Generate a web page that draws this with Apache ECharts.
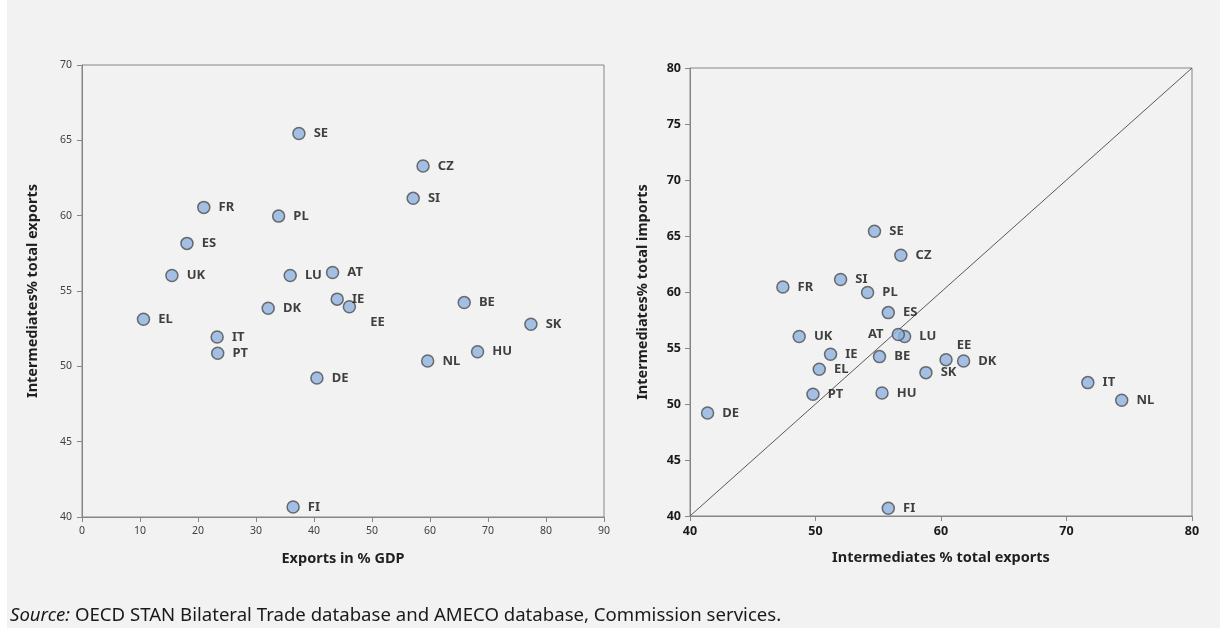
<!DOCTYPE html>
<html>
<head>
<meta charset="utf-8">
<script src="https://cdn.jsdelivr.net/npm/echarts@6/dist/echarts.min.js"></script>
<style>
html,body{margin:0;padding:0;background:#f2f2f2;}
#wrap{position:relative;width:1220px;height:628px;background:#f2f2f2;}
#strip{position:absolute;left:0;top:0;width:7px;height:628px;background:#ffffff;}
#chart{position:absolute;left:0;top:0;width:1220px;height:628px;}
</style>
</head>
<body>
<div id="wrap"><div id="chart"></div><div id="strip"></div></div>
<script>
// Countries
var countries = ['SE','CZ','SI','FR','PL','ES','UK','LU','AT','IE','EE','DK','BE','EL','SK','IT','PT','HU','NL','DE','FI'];
// Left chart x: exports in % of GDP
var exportsGDP = [37.4, 58.8, 57.1, 21.0, 33.9, 18.1, 15.5, 35.9, 43.2, 44.0, 46.1, 32.1, 65.9, 10.6, 77.4, 23.3, 23.4, 68.2, 59.6, 40.5, 36.4];
// Intermediates % total exports (left chart y)
var interExports = [65.45, 63.3, 61.15, 60.55, 59.97, 58.16, 56.03, 56.03, 56.23, 54.46, 53.95, 53.85, 54.23, 53.12, 52.79, 51.95, 50.87, 50.97, 50.35, 49.23, 40.66];
// Right chart x: intermediates % total exports (as plotted)
var rightX = [54.7, 56.8, 52.0, 47.4, 54.15, 55.8, 48.7, 57.1, 56.6, 51.2, 60.4, 61.8, 55.1, 50.3, 58.8, 71.7, 49.8, 55.3, 74.4, 41.4, 55.8];
// Right chart y: intermediates % total imports (as plotted)
var rightY = [65.42, 63.28, 61.11, 60.45, 59.95, 58.16, 56.02, 56.02, 56.20, 54.44, 53.96, 53.84, 54.23, 53.10, 52.80, 51.91, 50.87, 50.98, 50.33, 49.20, 40.69];
// 45-degree reference line
var diagonal = [[40, 40], [80, 80]];
var sourceLabel = 'Source:';
var sourceText = ' OECD STAN Bilateral Trade database and AMECO database, Commission services.';

var FONT = 'Noto Sans';
var leftLabelTweaks = { EE: { position: 'right', offset: [6, 15] } };
var rightLabelTweaks = { AT: { position: 'left' }, EE: { position: 'right', offset: [-4, -14] } };

function buildData(xs, ys, tweaks) {
  return countries.map(function (c, i) {
    var d = { name: c, value: [xs[i], ys[i]] };
    if (tweaks[c]) d.label = tweaks[c];
    return d;
  });
}

var markerStyle = { color: '#8eb2de', borderColor: '#4d4d4d', borderWidth: 1.5 };
var labelStyle = {
  show: true, position: 'right', distance: 8, formatter: '{b}',
  fontFamily: FONT, fontWeight: 'bold', fontSize: 13, color: '#111111'
};

var axisLineStyle = { lineStyle: { color: '#868686', width: 1 } };
var nameStyle = { fontFamily: FONT, fontWeight: 'bold', fontSize: 14.5, color: '#1f1f1f' };

var chart = echarts.init(document.getElementById('chart'));
chart.setOption({
  backgroundColor: 'transparent',
  animation: false,
  grid: [
    { left: 82, right: 616, top: 65, bottom: 111, show: true, borderColor: '#868686', borderWidth: 1, backgroundColor: 'transparent' },
    { left: 690, right: 28, top: 68, bottom: 112, show: true, borderColor: '#868686', borderWidth: 1, backgroundColor: 'transparent' }
  ],
  xAxis: [
    {
      gridIndex: 0, type: 'value', min: 0, max: 90, interval: 10,
      name: 'Exports in % GDP', nameLocation: 'middle', nameGap: 34,
      nameTextStyle: nameStyle,
      axisLine: axisLineStyle, axisTick: { show: true, length: 5, lineStyle: { color: '#868686' } },
      axisLabel: { fontFamily: FONT, fontSize: 10.5, color: '#404040', margin: 9 },
      splitLine: { show: false }
    },
    {
      gridIndex: 1, type: 'value', min: 40, max: 80, interval: 10,
      name: 'Intermediates % total exports', nameLocation: 'middle', nameGap: 34,
      nameTextStyle: nameStyle,
      axisLine: axisLineStyle, axisTick: { show: true, length: 5, lineStyle: { color: '#868686' } },
      axisLabel: { fontFamily: FONT, fontSize: 12.5, fontWeight: 'bold', color: '#1a1a1a', margin: 9 },
      splitLine: { show: false }
    }
  ],
  yAxis: [
    {
      gridIndex: 0, type: 'value', min: 40, max: 70, interval: 5,
      name: 'Intermediates% total exports', nameLocation: 'middle', nameGap: 42,
      nameTextStyle: nameStyle,
      axisLine: { show: true, lineStyle: { color: '#868686' } },
      axisTick: { show: true, length: 5, lineStyle: { color: '#868686' } },
      axisLabel: { fontFamily: FONT, fontSize: 10.5, color: '#404040', margin: 10 },
      splitLine: { show: false }
    },
    {
      gridIndex: 1, type: 'value', min: 40, max: 80, interval: 5,
      name: 'Intermediates% total imports', nameLocation: 'middle', nameGap: 40,
      nameTextStyle: nameStyle,
      axisLine: { show: true, lineStyle: { color: '#868686' } },
      axisTick: { show: true, length: 5, lineStyle: { color: '#868686' } },
      axisLabel: { fontFamily: FONT, fontSize: 12.5, fontWeight: 'bold', color: '#1a1a1a', margin: 9 },
      splitLine: { show: false }
    }
  ],
  series: [
    {
      type: 'line', xAxisIndex: 1, yAxisIndex: 1, data: diagonal,
      symbol: 'none', lineStyle: { color: '#595959', width: 1 }, silent: true, z: 1
    },
    {
      type: 'scatter', xAxisIndex: 0, yAxisIndex: 0, symbolSize: 12,
      data: buildData(exportsGDP, interExports, leftLabelTweaks),
      itemStyle: markerStyle, label: labelStyle, z: 3
    },
    {
      type: 'scatter', xAxisIndex: 1, yAxisIndex: 1, symbolSize: 12,
      data: buildData(rightX, rightY, rightLabelTweaks),
      itemStyle: markerStyle, label: labelStyle, z: 3
    }
  ],
  graphic: [
    {
      type: 'text', left: 10, top: 606,
      style: {
        text: '{i|' + sourceLabel + '}{n|' + sourceText + '}',
        rich: {
          i: { fontFamily: FONT, fontStyle: 'italic', fontSize: 18.6, fill: '#1a1a1a' },
          n: { fontFamily: FONT, fontSize: 18.6, fill: '#1a1a1a' }
        }
      }
    }
  ]
});
</script>
</body>
</html>
